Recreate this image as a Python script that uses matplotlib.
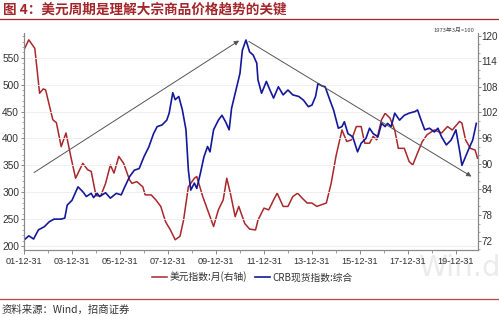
import matplotlib
matplotlib.use("Agg")
import matplotlib.pyplot as plt
from matplotlib.ticker import MultipleLocator, FixedLocator

plt.rcParams['font.family'] = ['Noto Sans CJK SC', 'DejaVu Sans']

# ---- data (decimal years) ----
crb_t = [2002.0, 2002.2, 2002.4, 2002.6, 2002.85, 2003.05, 2003.25, 2003.55, 2003.7, 2003.8,
         2004.0, 2004.25, 2004.45, 2004.6, 2004.8, 2004.9, 2005.05, 2005.15, 2005.4, 2005.6,
         2005.85, 2006.05, 2006.2, 2006.4, 2006.6, 2006.8, 2007.0, 2007.2, 2007.4, 2007.55,
         2007.75, 2007.95, 2008.05, 2008.2, 2008.3, 2008.45, 2008.6, 2008.75, 2008.85, 2008.95,
         2009.1, 2009.2, 2009.35, 2009.5, 2009.65, 2009.75, 2009.9, 2010.1, 2010.25, 2010.4,
         2010.55, 2010.65, 2010.85, 2011.0, 2011.1, 2011.25, 2011.4, 2011.55, 2011.7, 2011.75,
         2011.9, 2012.1, 2012.25, 2012.4, 2012.6, 2012.8, 2013.0, 2013.2, 2013.45, 2013.65,
         2013.85, 2014.0, 2014.15, 2014.25, 2014.4, 2014.55, 2014.75, 2014.9, 2015.1, 2015.25,
         2015.35, 2015.5, 2015.7, 2015.9, 2016.05, 2016.25, 2016.4, 2016.55, 2016.75, 2016.9,
         2017.05, 2017.15, 2017.3, 2017.45, 2017.65, 2017.85, 2018.05, 2018.3, 2018.4, 2018.55,
         2018.7, 2018.9, 2019.1, 2019.25, 2019.4, 2019.6, 2019.8, 2020.0, 2020.15, 2020.25,
         2020.4, 2020.55, 2020.7, 2020.85]
crb_v = [211, 219, 213, 230, 236, 245, 250, 250, 252, 276,
         285, 310, 301, 292, 298, 290, 298, 292, 299, 289,
         298, 295, 310, 329, 341, 344, 366, 384, 409, 422,
         425, 434, 447, 485, 472, 478, 453, 416, 341, 304,
         317, 307, 335, 366, 385, 375, 416, 434, 443, 431,
         416, 456, 493, 521, 564, 583, 561, 555, 540, 509,
         484, 506, 490, 475, 496, 481, 490, 481, 478, 471,
         459, 462, 478, 502, 498, 496, 471, 453, 419, 422,
         431, 409, 403, 375, 391, 400, 419, 409, 403, 428,
         422, 428, 422, 447, 434, 443, 447, 450, 453, 434,
         416, 419, 412, 419, 403, 388, 397, 416, 378, 350,
         366, 382, 397, 428]

usd_t = [2002.0, 2002.2, 2002.45, 2002.65, 2002.8, 2002.9, 2003.2, 2003.35, 2003.55, 2003.75,
         2003.95, 2004.15, 2004.45, 2004.65, 2004.8, 2005.0, 2005.2, 2005.4, 2005.6, 2005.75,
         2005.95, 2006.15, 2006.4, 2006.5, 2006.7, 2006.95, 2007.05, 2007.3, 2007.5, 2007.7,
         2007.9, 2008.1, 2008.3, 2008.5, 2008.65, 2008.85, 2009.1, 2009.2, 2009.45, 2009.65,
         2009.9, 2010.1, 2010.3, 2010.45, 2010.6, 2010.8, 2010.95, 2011.2, 2011.4, 2011.65,
         2011.75, 2012.0, 2012.2, 2012.4, 2012.55, 2012.8, 2013.0, 2013.2, 2013.4, 2013.6,
         2013.8, 2014.0, 2014.2, 2014.45, 2014.6, 2014.8, 2015.0, 2015.25, 2015.45, 2015.65,
         2015.85, 2016.05, 2016.2, 2016.4, 2016.55, 2016.7, 2016.9, 2017.05, 2017.25, 2017.45,
         2017.6, 2017.85, 2018.05, 2018.2, 2018.4, 2018.6, 2018.8, 2019.1, 2019.4, 2019.65,
         2019.85, 2020.15, 2020.25, 2020.4, 2020.6, 2020.8, 2020.9]
usd_v = [116.7, 119.0, 117.0, 106.5, 107.5, 107.3, 100.3, 99.6, 94.0, 97.2,
         91.7, 86.6, 90.1, 88.6, 88.2, 82.5, 82.5, 85.4, 89.7, 87.8,
         91.7, 90.1, 86.2, 85.4, 85.8, 84.6, 82.7, 82.7, 81.5, 80.0,
         76.4, 74.5, 72.2, 73.0, 76.8, 84.6, 86.6, 87.0, 82.3, 79.2,
         75.3, 79.2, 81.5, 86.6, 83.1, 77.6, 80.0, 76.0, 74.7, 74.5,
         76.8, 79.6, 79.2, 81.5, 83.1, 80.0, 80.0, 82.3, 83.1, 81.9,
         80.8, 80.8, 80.0, 80.5, 80.8, 85.4, 91.7, 97.9, 95.2, 95.6,
         98.7, 98.7, 94.8, 94.8, 96.4, 95.6, 100.3, 101.8, 100.7, 97.9,
         93.6, 93.6, 90.5, 89.7, 92.5, 95.2, 96.8, 97.9, 97.2, 98.7,
         97.9, 99.9, 99.5, 95.6, 93.6, 93.2, 91.3]

x_ticks = [2002, 2004, 2006, 2008, 2010, 2012, 2014, 2016, 2018, 2020]
x_labels = ['01-12-31', '03-12-31', '05-12-31', '07-12-31', '09-12-31',
            '11-12-31', '13-12-31', '15-12-31', '17-12-31', '19-12-31']
left_ticks = [200, 250, 300, 350, 400, 450, 500, 550]
right_ticks = [72, 78, 84, 90, 96, 102, 108, 114, 120]

title = '图 4：美元周期是理解大宗商品价格趋势的关键'
usd_label = '美元指数:月(右轴)'
crb_label = 'CRB现货指数:综合'
source = '资料来源：Wind，招商证券'

# ---- figure ----
W, H = 499, 316
fig = plt.figure(figsize=(W / 100, H / 100), dpi=100)
fig.patch.set_facecolor('white')

L, R, T, B = 24, 478, 33, 250
ax = fig.add_axes([L / W, 1 - B / H, (R - L) / W, (B - T) / H])
ax2 = ax.twinx()
ax.set_zorder(ax2.get_zorder() + 1)
ax.patch.set_visible(False)

blue = '#14189a'
red = '#a8282c'
ax.plot(crb_t, crb_v, color=blue, lw=1.2, label=crb_label)
ax2.plot(usd_t, usd_v, color=red, lw=1.1, label=usd_label)

ax.set_xlim(2002.0, 2020.92)
ax.set_ylim(192.6, 596)
ax2.set_ylim(69.8, 120.6)

ax.xaxis.set_major_locator(FixedLocator(x_ticks))
ax.set_xticklabels(x_labels)
ax.xaxis.set_minor_locator(MultipleLocator(1))
ax.yaxis.set_major_locator(FixedLocator(left_ticks))
ax.yaxis.set_minor_locator(MultipleLocator(10))
ax2.yaxis.set_major_locator(FixedLocator(right_ticks))
ax2.yaxis.set_minor_locator(MultipleLocator(2))

num_font = ['Liberation Sans', 'DejaVu Sans']
for lab in ax.get_xticklabels() + ax.get_yticklabels() + ax2.get_yticklabels():
    lab.set_family(num_font)

ax.grid(axis='y', color='#ececec', lw=0.6)
ax.set_axisbelow(True)

spine_c = '#888888'
for a in (ax, ax2):
    a.spines['top'].set_visible(False)
    for s in ('left', 'right', 'bottom'):
        a.spines[s].set_color(spine_c)
        a.spines[s].set_linewidth(0.8)
ax.tick_params(axis='x', which='major', length=3, width=0.7, color=spine_c,
               labelsize=6.6, labelcolor='#333333', pad=2)
ax.tick_params(axis='x', which='minor', length=2, width=0.6, color=spine_c)
ax.tick_params(axis='y', which='major', length=2.5, width=0.7, color=spine_c,
               labelsize=7.3, labelcolor='#333333', pad=1)
ax.tick_params(axis='y', which='minor', length=1.5, width=0.5, color=spine_c)
ax2.tick_params(axis='y', which='major', length=2, width=0.7, color=spine_c,
                labelsize=7.1, labelcolor='#333333', pad=0.5)
ax2.tick_params(axis='y', which='minor', length=1.5, width=0.5, color=spine_c)

# trend arrows (annotation, in axes fraction)
arrow_kw = dict(arrowstyle='-|>', color='#555555', lw=0.7, mutation_scale=7)
ax.annotate('', xy=(0.479, 0.972), xytext=(0.017, 0.350), xycoords='axes fraction',
            arrowprops=arrow_kw, zorder=5)
ax.annotate('', xy=(0.991, 0.332), xytext=(0.490, 0.968), xycoords='axes fraction',
            arrowprops=arrow_kw, zorder=5)

# legend
h1, l1 = ax2.get_legend_handles_labels()
h2, l2 = ax.get_legend_handles_labels()
fig.legend(h1 + h2, l1 + l2, loc='center', bbox_to_anchor=(252 / W, 1 - 277 / H),
           ncol=2, frameon=False, fontsize=7, handlelength=1.6, handletextpad=0.2,
           columnspacing=0.8, labelcolor='#333333')

# title and rules
fig.text(3 / W, 1 - 10 / H, title, fontsize=9.8, fontweight='bold', color='#a3262a',
         ha='left', va='center')
fig.add_artist(plt.Line2D([0, 1], [1 - 18.5 / H, 1 - 18.5 / H], color='#a3262a', lw=0.9))
fig.add_artist(plt.Line2D([0, 1], [1 - 299 / H, 1 - 299 / H], color='#b84a4a', lw=0.9))
fig.text(2 / W, 1 - 310 / H, source, fontsize=7.5, color='#333333', ha='left', va='center')

# small base note and watermark
fig.text(474 / W, 1 - 30 / H, '1973年3月=100', fontsize=4.2, color='#444444',
         ha='right', va='center')
wm = fig.text(459 / W, 1 - 268 / H, 'Win.d', fontsize=21, color='#ebebeb',
              ha='center', va='center', family=['Liberation Sans Narrow', 'DejaVu Sans'])
wm.set_zorder(-5)

fig.savefig('out.png', dpi=100)
